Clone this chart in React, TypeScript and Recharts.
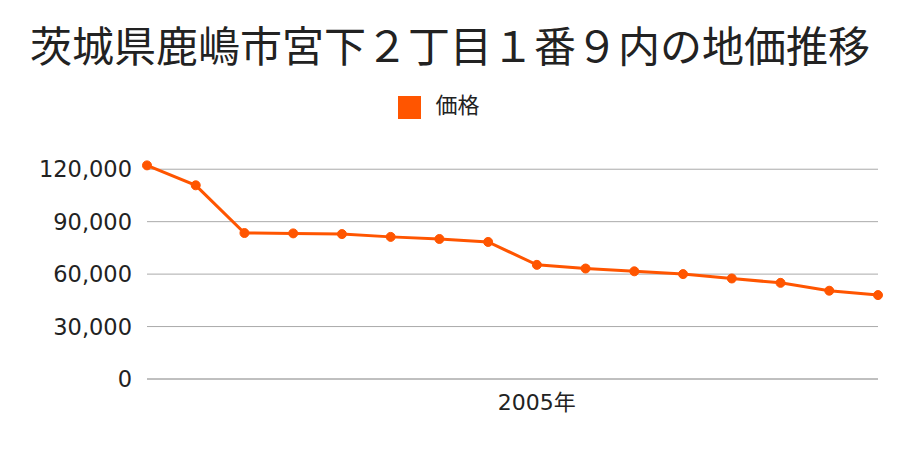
import React from 'react';
import { LineChart, Line, XAxis, YAxis, CartesianGrid, Legend } from 'recharts';

const years = ['1997', '1998', '1999', '2000', '2001', '2002', '2003', '2004', '2005', '2006', '2007', '2008', '2009', '2010', '2011', '2012'];
const prices = [122200, 110800, 83500, 83300, 82900, 81300, 80100, 78400, 65300, 63200, 61600, 60000, 57500, 55000, 50500, 48000];
const yTicks = [0, 30000, 60000, 90000, 120000];
const xTicks = ['2005'];

const chartData = years.map((year, i) => ({ year, price: prices[i] }));

const FONT = '"Noto Sans CJK JP", "Noto Sans", sans-serif';
const NUM_FONT = '"DejaVu Sans", "Noto Sans CJK JP", sans-serif';
const ORANGE = '#ff5500';

export default function App() {
  return (
    <div style={{ position: 'absolute', left: 0, top: 0, width: 900, height: 450, background: '#fff', fontFamily: FONT }}>
      <div style={{ position: 'absolute', left: 0, top: 17, width: 900, textAlign: 'center', fontSize: 42, lineHeight: '54px', color: '#222' }}>
        茨城県鹿嶋市宮下２丁目１番９内の地価推移
      </div>
      <LineChart width={900} height={450} data={chartData} margin={{ top: 111, right: 22, bottom: 41, left: 10 }}>
        <CartesianGrid vertical={false} stroke="#aaaaaa" horizontalValues={yTicks} />
        <XAxis
          dataKey="year"
          ticks={xTicks}
          tickFormatter={(v) => `${v}年`}
          tickLine={false}
          axisLine={{ stroke: '#aaaaaa' }}
          tick={{ fill: '#222', fontSize: 22, fontFamily: NUM_FONT }}
          tickMargin={9}
          height={30}
          interval={0}
        />
        <YAxis
          domain={[0, 135000]}
          ticks={yTicks}
          tickFormatter={(v) => v.toLocaleString('en-US')}
          axisLine={false}
          tickLine={false}
          tickMargin={9}
          width={137}
          tick={{ fill: '#222', fontSize: 22.5, fontFamily: NUM_FONT }}
        />
        <Legend
          verticalAlign="top"
          align="center"
          iconType="square"
          iconSize={23}
          wrapperStyle={{ top: 87, fontSize: 22, fontFamily: FONT, color: '#222' }}
          formatter={(value) => <span style={{ color: '#222', marginLeft: 10 }}>{value}</span>}
        />
        <Line
          type="linear"
          dataKey="price"
          name="価格"
          stroke={ORANGE}
          strokeWidth={3}
          dot={{ r: 4.5, fill: ORANGE, stroke: ORANGE, strokeWidth: 1 }}
          isAnimationActive={false}
        />
      </LineChart>
    </div>
  );
}
